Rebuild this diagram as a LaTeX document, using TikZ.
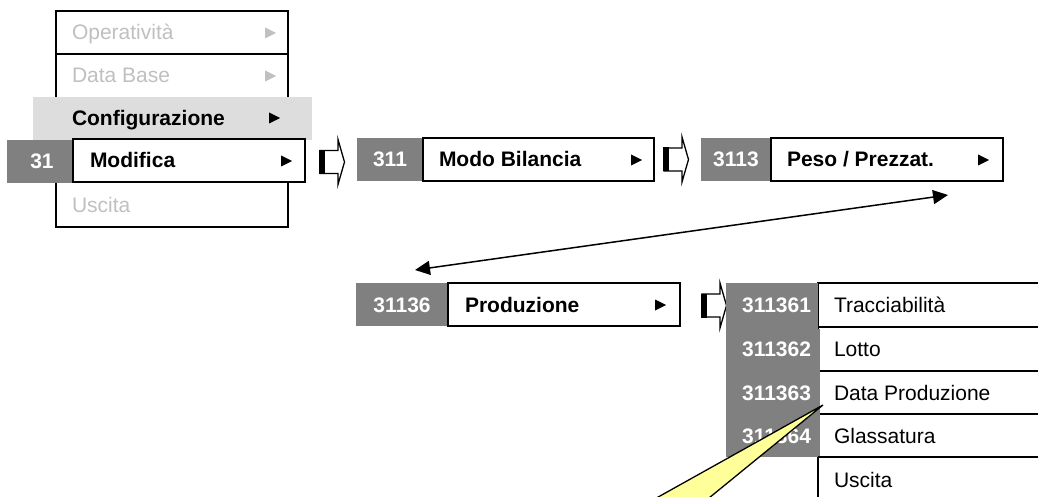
\documentclass[tikz,border=0pt]{standalone}
\usepackage{fontspec}
\setmainfont{Liberation Sans}
\usetikzlibrary{arrows.meta,calc}
\definecolor{numgrey}{HTML}{808080}
\definecolor{bandgrey}{HTML}{DDDDDD}
\definecolor{fadetext}{HTML}{C0C0C0}
\definecolor{calloutyellow}{HTML}{FFFF99}
\newcommand\menutri[2]{\fill[#2] (#1) ++(-5,-5.5) -- ++(11,5.5) -- ++(-11,5.5) -- cycle;}
\begin{document}
\begin{tikzpicture}[x=1pt,y=-1pt,
  every node/.style={inner sep=0pt, outer sep=0pt},
  boxw/.style={draw=black, line width=1.6pt, fill=white, anchor=north west, minimum height=43pt, minimum width=#1},
  numbox/.style={fill=numgrey, anchor=north west, minimum height=43pt, minimum width=#1, text height=15pt, text depth=0pt, font=\fontsize{21}{25}\selectfont\bfseries, text=white},
  txt/.style={anchor=west, text height=15pt, text depth=0pt, font=\fontsize{21}{25}\selectfont},
  btxt/.style={anchor=west, text height=15pt, text depth=0pt, font=\fontsize{21}{25}\selectfont\bfseries},
  ftxt/.style={txt, text=fadetext},
  numtxt/.style={anchor=east, text height=15pt, text depth=0pt, font=\fontsize{21}{25}\selectfont\bfseries, text=white},
  rule/.style={line width=1.6pt},
  blockarrow/.pic={
    \filldraw[fill=white, draw=black, line width=1.3pt, line join=miter]
      (0,-11.5) -- (18,-11.5) -- (18,-22.5) -- (24.5,0) -- (18,22.5) -- (18,11.5) -- (0,11.5) -- cycle;
    \fill[black] (-0.6,-12) rectangle (5,12);
  },
  dblarrow/.style={line width=1.5pt, {Triangle[length=15pt,width=14pt]}-{Triangle[length=15pt,width=14pt]}},
]
\clip (0,0) rectangle (1038,497);
\fill[white] (0,0) rectangle (1038,497);

% ---- left menu ----
\node[boxw=232pt, minimum height=216pt] (menu) at (56,11) {};
\draw[rule] (56,54) -- (288,54);
\node[fill=bandgrey, anchor=north west, minimum width=279pt, minimum height=43pt] (band) at (33,97) {};
\node[numbox=70pt] (n31) at (7,140) {31\hspace{6pt}};
\node[boxw=232pt] (modifica) at (73,139) {};

\node[ftxt] (tOp) at (72,32.5) {Operatività};
\node[ftxt] (tDB) at (72,75.5) {Data Base};
\node[btxt] (tConf) at (72,118) {Configurazione};
\node[btxt] (tMod) at (90,160.5) {Modifica};
\node[ftxt] (tUsc) at (72,205) {Uscita};
\menutri{270,33}{fadetext}
\menutri{270,76}{fadetext}
\menutri{274,118}{black}
\menutri{286,161}{black}

% ---- level 311 ----
\pic (ba1) at (320,162) {blockarrow};
\node[numbox=66pt] (n311) at (357,138) {311};
\node[boxw=231pt] (modo) at (423,138) {};
\node[btxt] (tModo) at (439,159.5) {Modo Bilancia};
\menutri{636,160}{black}

% ---- level 3113 ----
\pic (ba2) at (664,159.5) {blockarrow};
\node[numbox=70pt] (n3113) at (701,138) {3113};
\node[boxw=232pt] (peso) at (771,138) {};
\node[btxt] (tPeso) at (787,159.5) {Peso / Prezzat.};
\menutri{983,160}{black}

% ---- connector ----
\coordinate (dA) at (948,195);
\coordinate (dB) at (415,270);
\draw[dblarrow] (dB) -- (dA);

% ---- level 31136 ----
\node[numbox=92pt] (n31136) at (356,283) {31136};
\node[boxw=232pt] (prod) at (448,283) {};
\node[btxt] (tProd) at (465,304.5) {Produzione};
\menutri{660,305}{black}
\pic (ba3) at (702,305.5) {blockarrow};

% ---- submenu list ----
\node[boxw=232pt, minimum height=44pt] (l1) at (818,283) {};
\node[boxw=232pt, minimum height=44pt] (l2) at (818,327) {};
\node[boxw=232pt, minimum height=43pt] (l3) at (818,371) {};
\node[boxw=232pt, minimum height=43pt] (l4) at (818,414) {};
\node[boxw=232pt, minimum height=50pt] (l5) at (818,457) {};
\node[fill=numgrey, anchor=north west, minimum width=91.5pt, minimum height=174pt] (col) at (726,283) {};
\fill[numgrey] (816,328.5) rectangle (819.5,456);

\node[numtxt] (c1) at (811,305) {311361};
\node[numtxt] (c2) at (811,349) {311362};
\node[numtxt] (c3) at (811,392.5) {311363};
\node[numtxt] (c4) at (811,435.5) {311364};

\node[txt] (t1) at (834,305) {Tracciabilità};
\node[txt] (t2) at (834,349) {Lotto};
\node[txt] (t3) at (834,392.5) {Data Produzione};
\node[txt] (t4) at (834,435.5) {Glassatura};
\node[txt] (t5) at (834,479.5) {Uscita};

% ---- callout pointer ----
\coordinate (ctip) at (823,405);
\filldraw[fill=calloutyellow, draw=black, line width=1.3pt, line join=miter]
  (ctip) -- (617,520) -- (682,520) -- cycle;
\end{tikzpicture}
\end{document}
